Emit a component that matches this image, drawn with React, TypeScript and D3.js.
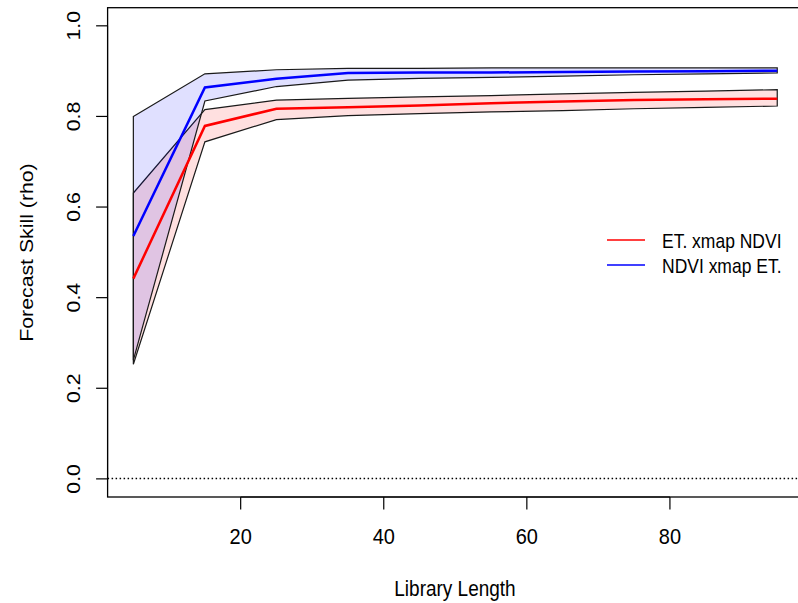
import React, { useEffect, useRef } from 'react'
import * as d3 from 'd3'

// library sizes used in the cross map
const libSizes = [5, 15, 25, 35, 45, 55, 65, 75, 85, 95]

// ET. xmap NDVI
const etMean = [0.442, 0.779, 0.817, 0.820, 0.824, 0.829, 0.833, 0.836, 0.838, 0.839]
const etUpper = [0.631, 0.815, 0.836, 0.840, 0.843, 0.846, 0.850, 0.853, 0.856, 0.859]
const etLower = [0.253, 0.744, 0.793, 0.802, 0.806, 0.810, 0.813, 0.817, 0.820, 0.823]

// NDVI xmap ET.
const ndviMean = [0.536, 0.864, 0.883, 0.896, 0.897, 0.897, 0.898, 0.899, 0.900, 0.901]
const ndviUpper = [0.800, 0.894, 0.903, 0.906, 0.906, 0.907, 0.907, 0.907, 0.907, 0.907]
const ndviLower = [0.262, 0.834, 0.866, 0.880, 0.884, 0.886, 0.889, 0.892, 0.894, 0.896]

const xTicks = [20, 40, 60, 80]
const yTicks = [0, 0.2, 0.4, 0.6, 0.8, 1.0]
const legendLabels = ['ET. xmap NDVI', 'NDVI xmap ET.']
const legendColors = ['#ff0000', '#0000ff']

const W = 798
const H = 603
const FONT = 'Liberation Sans, Arial, sans-serif'
const STRETCH = 1.12

export default function App() {
    const ref = useRef<SVGSVGElement>(null)

    useEffect(() => {
        const svg = d3.select(ref.current)
        svg.selectAll('*').remove()

        const x = d3.scaleLinear().domain([1.4, 98.6]).range([107.6, 803])
        const y = d3.scaleLinear().domain([-0.04, 1.04]).range([497, 7.7])

        const band = (upper: number[], lower: number[], fill: string) => {
            const pts: [number, number][] = []
            libSizes.forEach((l, i) => pts.push([x(l), y(upper[i])]))
            for (let i = libSizes.length - 1; i >= 0; i--) pts.push([x(libSizes[i]), y(lower[i])])
            svg.append('polygon')
                .attr('points', pts.map(p => p.join(',')).join(' '))
                .attr('fill', fill)
                .attr('stroke', '#1a1a1a')
                .attr('stroke-width', 1.2)
        }

        const line = d3.line<number>()
            .x((d, i) => x(libSizes[i]))
            .y(d => y(d))

        band(etUpper, etLower, 'rgba(255,0,0,0.12)')
        band(ndviUpper, ndviLower, 'rgba(0,0,255,0.12)')

        svg.append('path').datum(etMean)
            .attr('d', line).attr('fill', 'none')
            .attr('stroke', '#ff0000').attr('stroke-width', 2.5)
        svg.append('path').datum(ndviMean)
            .attr('d', line).attr('fill', 'none')
            .attr('stroke', '#0000ff').attr('stroke-width', 2.5)

        // dotted zero line
        const y0 = Math.round(y(0)) - 0.5
        svg.append('line')
            .attr('x1', x.range()[0]).attr('x2', W)
            .attr('y1', y0).attr('y2', y0)
            .attr('stroke', '#000').attr('stroke-width', 1.3)
            .attr('stroke-dasharray', '1.5,2.5')

        // box
        svg.append('rect')
            .attr('x', x.range()[0]).attr('y', y.range()[1])
            .attr('width', x.range()[1] - x.range()[0])
            .attr('height', y.range()[0] - y.range()[1])
            .attr('fill', 'none').attr('stroke', '#000').attr('stroke-width', 1.3)

        // y axis
        const yAxis = svg.append('g').attr('transform', `translate(${x.range()[0]},0)`)
        yAxis.append('line')
            .attr('x1', 0).attr('x2', 0)
            .attr('y1', y(0)).attr('y2', y(1))
            .attr('stroke', '#000')
        yTicks.forEach(t => {
            yAxis.append('line')
                .attr('x1', -11.5).attr('x2', 0)
                .attr('y1', y(t)).attr('y2', y(t))
                .attr('stroke', '#000').attr('stroke-width', 1.2)
            yAxis.append('text')
                .attr('transform', `translate(-28,${y(t)}) rotate(-90) scale(${STRETCH},1)`)
                .attr('text-anchor', 'middle')
                .attr('font-family', FONT).attr('font-size', 19)
                .attr('fill', '#000')
                .text(d3.format('.1f')(t))
        })

        // x axis
        const xAxis = svg.append('g').attr('transform', `translate(0,${y.range()[0]})`)
        xAxis.append('line')
            .attr('x1', x(20)).attr('x2', x(80))
            .attr('y1', 0).attr('y2', 0)
            .attr('stroke', '#000')
        xTicks.forEach(t => {
            xAxis.append('line')
                .attr('x1', x(t)).attr('x2', x(t))
                .attr('y1', 0).attr('y2', 12.5)
                .attr('stroke', '#000').attr('stroke-width', 1.2)
            xAxis.append('text')
                .attr('transform', `translate(${x(t)},47) scale(1,${STRETCH})`)
                .attr('text-anchor', 'middle')
                .attr('font-family', FONT).attr('font-size', 20)
                .attr('fill', '#000')
                .text(t)
        })

        // axis titles
        svg.append('text')
            .attr('transform', `translate(455,596) scale(1,${STRETCH})`)
            .attr('text-anchor', 'middle')
            .attr('font-family', FONT).attr('font-size', 19)
            .text('Library Length')
        svg.append('text')
            .attr('transform', `translate(32.5,252.5) rotate(-90) scale(${STRETCH},1)`)
            .attr('text-anchor', 'middle')
            .attr('font-family', FONT).attr('font-size', 19)
            .text('Forecast Skill (rho)')

        // legend
        legendLabels.forEach((lab, i) => {
            const ly = 240 + i * 25
            svg.append('line')
                .attr('x1', 607).attr('x2', 645)
                .attr('y1', ly).attr('y2', ly)
                .attr('stroke', legendColors[i]).attr('stroke-width', 1.5)
            svg.append('text')
                .attr('transform', `translate(662,${ly + 7.5}) scale(1,${STRETCH})`)
                .attr('font-family', FONT).attr('font-size', 17.5)
                .text(lab)
        })
    }, [])

    return (
        <svg ref={ref} width={W} height={H}
            style={{ position: 'absolute', left: 0, top: 0, background: '#fff', display: 'block' }} />
    )
}
